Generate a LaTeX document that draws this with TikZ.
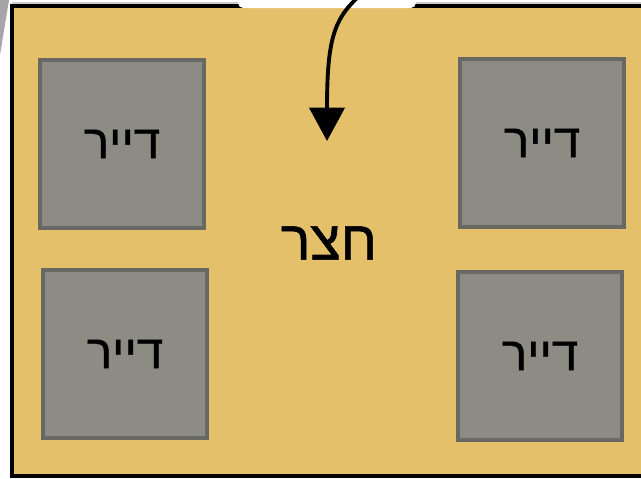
\documentclass[tikz,border=0pt]{standalone}
\usepackage{fontspec}
\usepackage{tikz}
\usetikzlibrary{arrows.meta}
\TeXXeTstate=1
\newfontfamily\hebfont[Script=Hebrew,FakeBold=1]{Liberation Sans}
\definecolor{yard}{RGB}{228,192,106}
\definecolor{flat}{RGB}{140,140,132}
\definecolor{flatedge}{RGB}{104,104,100}

\begin{document}
\begin{tikzpicture}[x=0.02cm,y=-0.02cm,
	tenant/.style={draw=flatedge,line width=2pt,fill=flat,minimum width=3.28cm,minimum height=3.36cm,inner sep=0pt,font=\hebfont\fontsize{27}{30}\selectfont},
	yardlabel/.style={font=\hebfont\fontsize{31.5}{36}\selectfont,inner sep=0pt}]
					\useasboundingbox (0,0) rectangle (641,478);
					\fill[gray!70] (0,0) -- (9,0) -- (0,55) -- cycle;
					\draw[gray!40,line width=0.6pt] (12,3) -- (641,3);
					\draw[fill=yard,line width=2.2pt] (12,6) rectangle (660,476);
					\fill[white,rounded corners=3pt] (238,-6) rectangle (416,8);
					\node[yardlabel] (yard) at (329,243) {\beginR חצר\endR};
		            \foreach\x/\y/\z in {122/144/tl,542/143/tr,125/354/bl,540/356/br}
		                \node[tenant] (\z) at (\x,\y) {\beginR דייר\endR};
					\coordinate (gate) at (357,-2);
					\coordinate (tip) at (327,141);
					\draw[line width=2.2pt,-{Triangle[length=19pt,width=20pt]}] (gate) .. controls (334,20) and (327,40) .. (tip);
		         \end{tikzpicture}
\end{document}
